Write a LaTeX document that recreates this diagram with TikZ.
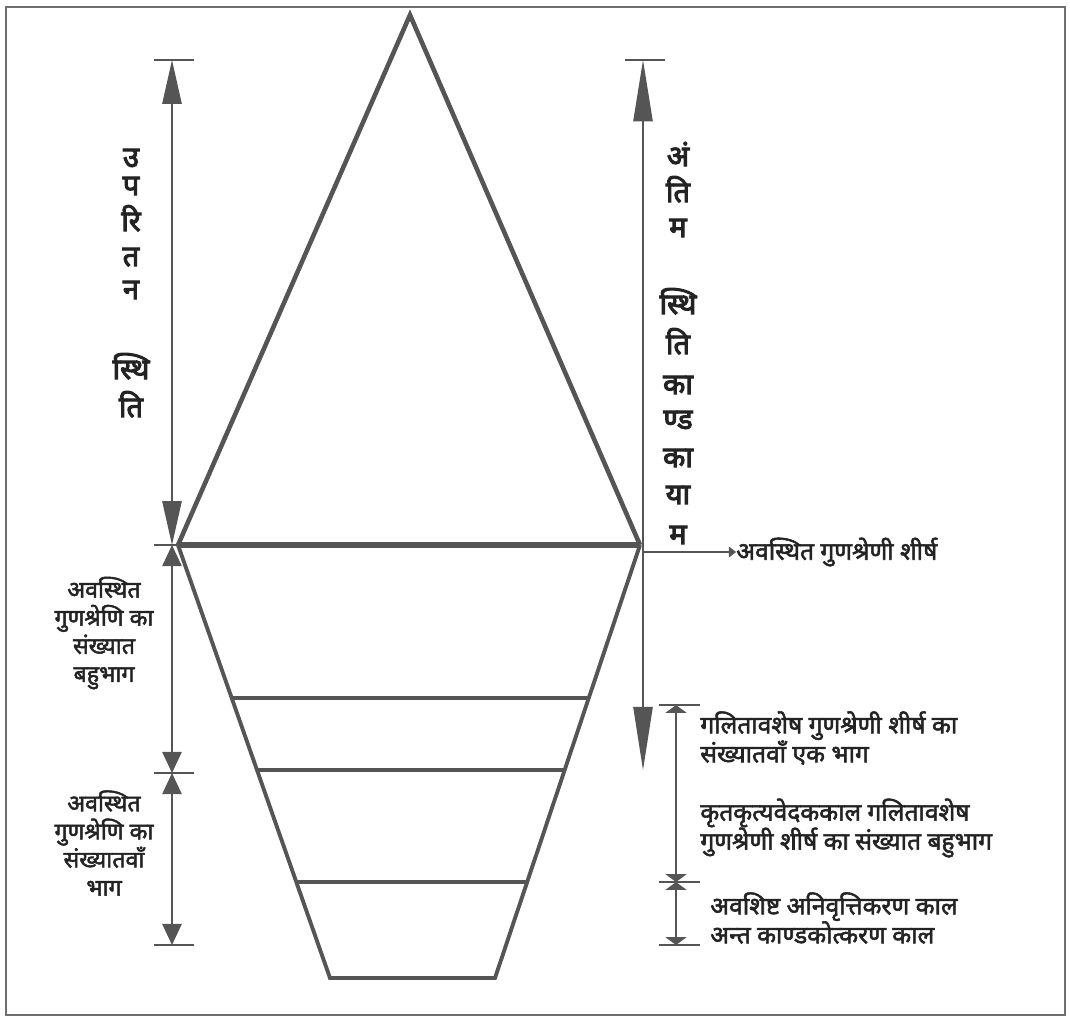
\documentclass[tikz,border=0pt]{standalone}
\usepackage{fontspec}
\newfontfamily\deva[Script=Devanagari, FakeBold=2.2]{Noto Sans}
\newfontfamily\devab[Script=Devanagari, FakeBold=3.6]{Noto Sans}
\usetikzlibrary{arrows.meta,calc}
\definecolor{linegray}{HTML}{555555}
\definecolor{textgray}{HTML}{232323}
\definecolor{framegray}{HTML}{6E6E6E}

\begin{document}
\begin{tikzpicture}[
    x=0.02cm, y=-0.02cm,
    shapeline/.style={draw=linegray, line width=#1, line join=miter},
    dimline/.style={draw=linegray, line width=0.9pt},
    tick/.style={draw=linegray, line width=0.9pt},
    bigtip/.style={{Triangle[length=25pt,width=11pt]}-{Triangle[length=25pt,width=11pt]}},
    midtip/.style={{Triangle[length=12pt,width=11pt]}-{Triangle[length=12pt,width=11pt]}},
    flattip/.style={{Triangle[length=4.5pt,width=12pt]}-{Triangle[length=4.5pt,width=12pt]}},
    longtip/.style={{Triangle[length=35pt,width=11pt]}-{Triangle[length=36pt,width=11pt]}},
    vlbl/.style={font=\devab\bfseries\fontsize{16.5}{18}\selectfont, text=textgray, anchor=base, inner sep=0pt},
    blk/.style={font=\deva\bfseries\fontsize{14}{16.5}\selectfont, text=textgray, inner sep=0pt},
    blkl/.style={font=\deva\bfseries\fontsize{13.2}{16}\selectfont, text=textgray, inner sep=0pt},
  ]
  \useasboundingbox (0,0) rectangle (1070,1018);

  % =================== FRAME ===================
  \draw[framegray, line width=1.1pt] (6,7) rectangle (1065,1015);

  % =================== FIGURE ===================
  \coordinate (apex) at (410,15);
  \coordinate (bl) at (178,545);
  \coordinate (br) at (640,545);
  \coordinate (fl) at (330,978);
  \coordinate (fr) at (495,978);

  % Triangle (upper part)
  \draw[shapeline=2.6pt] (bl) -- (apex) -- (br);
  \draw[shapeline=3.8pt] (bl) -- (br);
  % Trapezoid (lower part)
  \draw[shapeline=2.2pt] (bl) -- (fl) -- (fr) -- (br);
  % Cross lines
  \foreach \yy in {698,770,882}
    \draw[shapeline=2.2pt] ($(bl)!{(\yy-545)/433}!(fl)$) -- ($(br)!{(\yy-545)/433}!(fr)$);

  % =================== LEFT DIMENSIONS ===================
  \coordinate (L0) at (172,60);
  \coordinate (L1) at (172,545);
  \coordinate (L2) at (172,773);
  \coordinate (L3) at (172,945);
  \foreach \p in {L0,L1,L2,L3}
    \draw[tick] ($(\p)+(-18,0)$) -- ($(\p)+(22,0)$);
  \draw[dimline, bigtip, fill=linegray] (L0) -- (L1);
  \draw[dimline, midtip, fill=linegray] (L1) -- (L2);
  \draw[dimline, midtip, fill=linegray] (L2) -- (L3);

  % Vertical label: upper stage
  \foreach \ch/\yy [count=\i] in {उ/167,प/195,रि/231,त/266,न/299,स्थि/379,ति/417}
    \node[vlbl] (up\i) at (131,\yy) {\ch};

  % Left block texts
  \node[blkl, align=center] (avsA) at (104,633)
    {अवस्थित\\गुणश्रेणि का\\संख्यात\\बहुभाग};
  \node[blkl, align=center] (avsB) at (104,843)
    {अवस्थित\\गुणश्रेणि का\\संख्यातवाँ\\भाग};

  % =================== RIGHT DIMENSIONS ===================
  \coordinate (R0) at (643,60);
  \coordinate (R1) at (643,770);
  \draw[tick] (625,60) -- (665,60);
  \draw[dimline, longtip, fill=linegray] (R0) -- (R1);

  % Vertical label: final stage
  \foreach \ch/\yy [count=\i] in {अं/166,ति/202,म/237,स्थि/314,ति/354,का/394,ण्ड/429,का/467,या/504,म/544}
    \node[vlbl] (fin\i) at (678,\yy) {\ch};

  % Pointer to the head of the band
  \coordinate (hd) at (643,552);
  \node[blk, anchor=west] (sirsh) at (736,552) {अवस्थित गुणश्रेणी शीर्ष};
  \draw[dimline, -{Triangle[length=4pt,width=6pt]}] (hd) -- (sirsh.west);

  % Small dimensions
  \coordinate (S0) at (676,705);
  \coordinate (S1) at (676,882);
  \coordinate (S2) at (676,945);
  \foreach \p in {S0,S1,S2}
    \draw[tick] ($(\p)+(-17,0)$) -- ($(\p)+(24,0)$);
  \draw[dimline, flattip, fill=linegray] (S0) -- (S1);
  \draw[dimline, flattip, fill=linegray] (S1) -- (S2);

  % Right block texts
  \node[blk, align=left, anchor=west] (galA) at (700,738)
    {गलितावशेष गुणश्रेणी शीर्ष का\\संख्यातवाँ एक भाग};
  \node[blk, align=left, anchor=west] (krit) at (700,828)
    {कृतकृत्यवेदककाल गलितावशेष\\गुणश्रेणी शीर्ष का संख्यात बहुभाग};
  \node[blk, align=left, anchor=west] (avsh) at (710,918)
    {अवशिष्ट अनिवृत्तिकरण काल\\अन्त काण्डकोत्करण काल};

\end{tikzpicture}
\end{document}
